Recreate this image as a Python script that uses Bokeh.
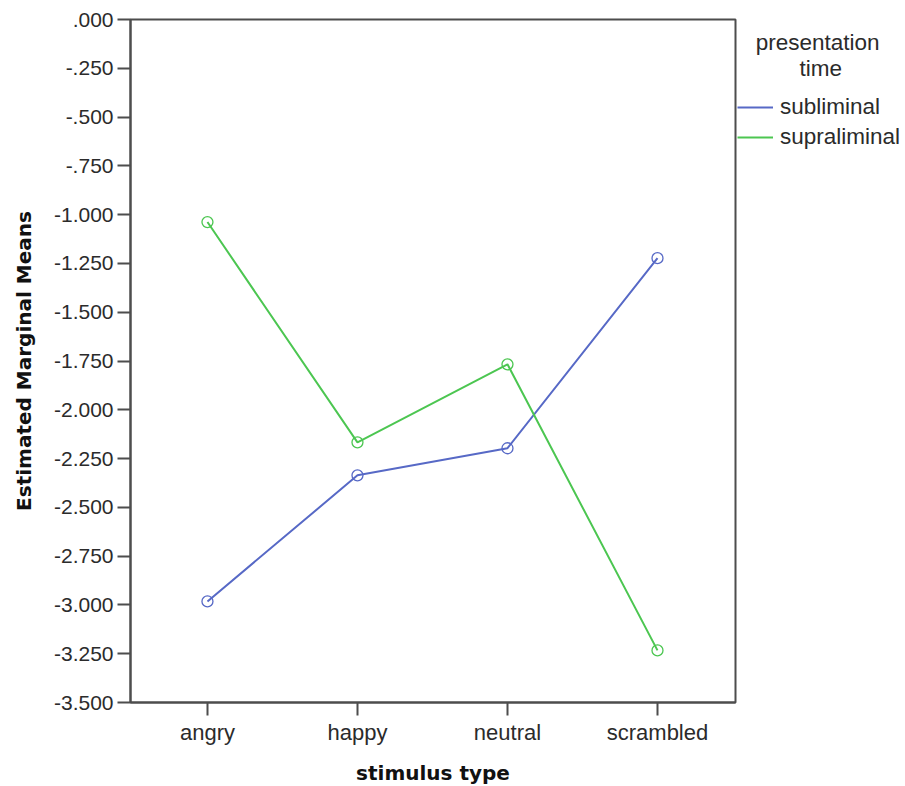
from bokeh.plotting import figure
from bokeh.models import Legend, LegendItem, FixedTicker, Range1d
from bokeh.embed import file_html
from bokeh.resources import INLINE

categories = ["angry", "happy", "neutral", "scrambled"]
subliminal = [-2.982, -2.336, -2.197, -1.223]
supraliminal = [-1.038, -2.167, -1.767, -3.233]
y_ticks = [0.0, -0.25, -0.5, -0.75, -1.0, -1.25, -1.5, -1.75, -2.0, -2.25, -2.5, -2.75, -3.0, -3.25, -3.5]
y_tick_labels = [".000", "-.250", "-.500", "-.750", "-1.000", "-1.250", "-1.500", "-1.750",
                 "-2.000", "-2.250", "-2.500", "-2.750", "-3.000", "-3.250", "-3.500"]
series_names = ["subliminal", "supraliminal"]
legend_title_lines = ["presentation", "time"]

xs = list(range(len(categories)))
FONT = "Liberation Sans"
BOLD_FONT = "DejaVu Sans"
AXIS_COLOR = "#4d4d4d"
TEXT_COLOR = "#2b2b2b"
BLUE = "#5769c6"
GREEN = "#4cc651"
NBSP = "\u00a0"

p = figure(output_backend="svg", toolbar_location=None,
           frame_width=605, frame_height=683,
           x_range=Range1d(-0.513, 3.52), y_range=Range1d(-3.5, 0.0),
           min_border_left=130, min_border_top=19, min_border_right=160, min_border_bottom=80)
p.grid.visible = False
p.background_fill_color = "white"
p.border_fill_color = "white"
p.outline_line_color = AXIS_COLOR
p.outline_line_width = 2

r1 = p.line(xs, subliminal, line_color=BLUE, line_width=2)
p.scatter(xs, subliminal, marker="circle", size=11, fill_color=None, line_color=BLUE, line_width=1.3)
r2 = p.line(xs, supraliminal, line_color=GREEN, line_width=2)
p.scatter(xs, supraliminal, marker="circle", size=11, fill_color=None, line_color=GREEN, line_width=1.3)

for ax in (p.xaxis[0], p.yaxis[0]):
    ax.axis_line_color = AXIS_COLOR
    ax.axis_line_width = 2
    ax.major_tick_line_color = AXIS_COLOR
    ax.major_tick_line_width = 2
    ax.major_tick_in = 0
    ax.major_tick_out = 13
    ax.minor_tick_line_color = None
    ax.major_label_text_font = FONT
    ax.major_label_text_color = TEXT_COLOR
    ax.axis_label_text_font = BOLD_FONT
    ax.axis_label_text_font_style = "bold"
    ax.axis_label_text_font_size = "20px"
    ax.axis_label_text_color = "#111111"

p.xaxis.ticker = FixedTicker(ticks=xs)
p.xaxis.major_label_overrides = {i: c for i, c in enumerate(categories)}
p.xaxis.major_label_text_font_size = "22px"
p.xaxis.axis_label = "stimulus type"
p.xaxis.major_label_standoff = 4
p.xaxis.axis_label_standoff = 13

p.yaxis.ticker = FixedTicker(ticks=y_ticks)
p.yaxis.major_label_overrides = {t: l for t, l in zip(y_ticks, y_tick_labels)}
p.yaxis.major_label_text_font_size = "21px"
p.yaxis.axis_label = "Estimated Marginal Means"
p.yaxis.major_label_standoff = 4
p.yaxis.axis_label_standoff = 15

# centre the two title lines over the legend column (title text is left aligned by Bokeh)
title_text = NBSP * 3 + legend_title_lines[0] + "\n" + NBSP * 10 + legend_title_lines[1]

legend = Legend(items=[LegendItem(label=series_names[0], renderers=[r1]),
                       LegendItem(label=series_names[1], renderers=[r2])],
                title=title_text,
                title_text_font=FONT, title_text_font_size="22.5px",
                title_text_font_style="normal", title_text_color=TEXT_COLOR,
                title_text_line_height=1.03, title_standoff=12,
                location=(2, 552), orientation="vertical",
                border_line_color=None, background_fill_alpha=0,
                label_text_font=FONT, label_text_font_size="22.5px",
                label_text_color=TEXT_COLOR,
                glyph_width=36, glyph_height=24, label_height=24, spacing=4,
                padding=0, margin=0, label_standoff=7)
p.add_layout(legend, "right")

open("out.html", "w").write(file_html(p, INLINE))
